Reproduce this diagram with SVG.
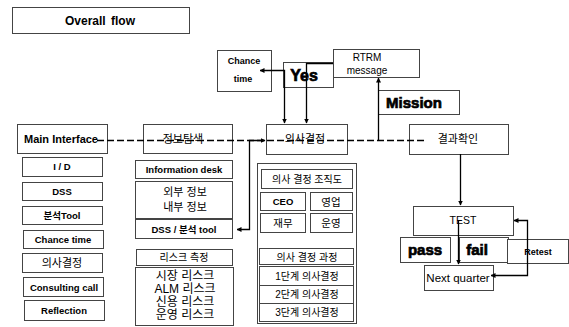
<svg xmlns="http://www.w3.org/2000/svg" width="569" height="327" viewBox="0 0 569 327">
<style>
.b{fill:#fff;stroke:#444;stroke-width:1}
.t{font-family:"Liberation Sans","Noto Sans CJK KR",sans-serif;text-anchor:middle;fill:#000}
.bd{font-weight:bold}
.hv{font-weight:bold;stroke:#000;stroke-width:0.7}
.c{fill:none;stroke:#000;stroke-width:1.3}
</style>
<defs>
<marker id="ah" viewBox="0 0 10 10" refX="9" refY="5" markerWidth="5" markerHeight="5" markerUnits="userSpaceOnUse" orient="auto-start-reverse">
<path d="M0,0 L10,5 L0,10 z" fill="#000"/>
</marker>
</defs>
<rect width="569" height="327" fill="#fff"/>

<g id="title"><rect class="b" x="12.5" y="7.5" width="177" height="26"/><text class="t bd" x="100" y="25" font-size="12" word-spacing="2">Overall flow</text></g>

<g id="chance-top"><rect class="b" x="217.5" y="50.5" width="54" height="41"/><text class="t bd" x="244" y="64" font-size="9">Chance</text><text class="t bd" x="243" y="82" font-size="9">time</text></g>
<g id="yes"><rect class="b" x="283.5" y="62.5" width="50" height="25"/><text class="t hv" x="304" y="81" font-size="16">Yes</text></g>
<g id="rtrm"><rect class="b" x="333.5" y="49.5" width="86" height="28"/><text class="t" x="367" y="61" font-size="10">RTRM</text><text class="t" x="367" y="74" font-size="10">message</text></g>
<g id="mission"><rect class="b" x="378.5" y="90.5" width="81" height="24"/><text class="t hv" x="414" y="108" font-size="15">Mission</text></g>

<g id="main"><rect class="b" x="17.5" y="124.5" width="90" height="29"/><text class="t bd" x="61" y="143" font-size="11">Main Interface</text></g>
<g id="info"><rect class="b" x="143.5" y="124.5" width="89" height="29"/><text class="t" x="183" y="143" font-size="11">정보탐색</text></g>
<g id="decide"><rect class="b" x="266.5" y="124.5" width="81" height="30"/><text class="t" x="305" y="143" font-size="11">의사결정</text></g>
<g id="result"><rect class="b" x="409.5" y="124.5" width="99" height="30"/><text class="t" x="458" y="143" font-size="11">결과확인</text></g>

<g id="c1-id"><rect class="b" x="22.5" y="157.5" width="80" height="19"/><text class="t bd" x="62" y="170" font-size="9.5">I / D</text></g>
<g id="c1-dss"><rect class="b" x="22.5" y="182.5" width="80" height="18"/><text class="t bd" x="62" y="195" font-size="9.5">DSS</text></g>
<g id="c1-tool"><rect class="b" x="22.5" y="206.5" width="80" height="18"/><text class="t bd" x="62" y="219" font-size="9.5">분석Tool</text></g>
<g id="c1-chance"><rect class="b" x="23.5" y="230.5" width="80" height="18"/><text class="t bd" x="63" y="243" font-size="9.5">Chance time</text></g>
<g id="c1-decide"><rect class="b" x="22.5" y="253.5" width="80" height="19"/><text class="t" x="62" y="267" font-size="11">의사결정</text></g>
<g id="c1-consult"><rect class="b" x="23.5" y="277.5" width="80" height="19"/><text class="t bd" x="64" y="290.5" font-size="9.5">Consulting call</text></g>
<g id="c1-reflect"><rect class="b" x="24.5" y="300.5" width="80" height="20"/><text class="t bd" x="64" y="314" font-size="9.5">Reflection</text></g>

<g id="c2-desk"><rect class="b" x="135.5" y="160.5" width="97" height="18"/><text class="t bd" x="184" y="173" font-size="9.5">Information desk</text></g>
<g id="c2-ext"><rect class="b" x="135.5" y="181.5" width="97" height="37"/><text class="t" x="185" y="196" font-size="11">외부 정보</text><text class="t" x="185" y="211" font-size="11">내부 정보</text></g>
<g id="c2-dss"><rect class="b" x="135.5" y="219.5" width="97" height="19"/><text class="t bd" x="184" y="232.5" font-size="9.5">DSS / 분석 tool</text></g>
<g id="c2-riskm"><rect class="b" x="136.5" y="249.5" width="96" height="16"/><text class="t" x="184" y="261" font-size="10">리스크 측정</text></g>
<g id="c2-risks"><rect class="b" x="135.5" y="267.5" width="98" height="58"/><text class="t" x="185" y="280" font-size="12">시장 리스크</text><text class="t" x="185" y="293" font-size="12">ALM 리스크</text><text class="t" x="185" y="306" font-size="12">신용 리스크</text><text class="t" x="185" y="319" font-size="12">운영 리스크</text></g>

<g id="c3"><rect class="b" x="257.5" y="163.5" width="99" height="160"/>
<rect class="b" x="261.5" y="169.5" width="91" height="19"/><text class="t" x="307" y="183" font-size="10">의사 결정 조직도</text>
<rect class="b" x="260.5" y="192.5" width="45" height="18"/><text class="t bd" x="283" y="205" font-size="9.5">CEO</text>
<rect class="b" x="310.5" y="192.5" width="42" height="18"/><text class="t" x="331" y="205.5" font-size="10.5">영업</text>
<rect class="b" x="260.5" y="213.5" width="45" height="19"/><text class="t" x="283" y="227" font-size="10.5">재무</text>
<rect class="b" x="310.5" y="213.5" width="42" height="19"/><text class="t" x="331" y="227" font-size="10.5">운영</text>
<rect class="b" x="259.5" y="248.5" width="94" height="16"/><text class="t" x="307" y="260.5" font-size="10">의사 결정 과정</text>
<rect class="b" x="259.5" y="266.5" width="94" height="19"/><text class="t" x="307" y="279.5" font-size="10">1단계 의사결정</text>
<rect class="b" x="259.5" y="285.5" width="94" height="18"/><text class="t" x="307" y="298" font-size="10">2단계 의사결정</text>
<rect class="b" x="259.5" y="303.5" width="94" height="18"/><text class="t" x="307" y="316" font-size="10">3단계 의사결정</text>
</g>

<g id="test"><rect class="b" x="413.5" y="206.5" width="100" height="29"/><text class="t" x="463" y="224" font-size="10.5">TEST</text></g>
<g id="pass"><rect class="b" x="400.5" y="237.5" width="50" height="25"/><text class="t hv" x="425" y="255" font-size="15">pass</text></g>
<g id="fail"><rect class="b" x="459.5" y="237.5" width="49" height="25"/><text class="t hv" x="477" y="255" font-size="15">fail</text></g>
<g id="retest"><rect class="b" x="507.5" y="239.5" width="61" height="24"/><text class="t bd" x="538" y="255" font-size="9">Retest</text></g>
<g id="next"><rect class="b" x="424.5" y="265.5" width="69" height="25"/><text class="t" x="458" y="281.5" font-size="11.5">Next quarter</text></g>

<g id="connectors">
<path class="c" d="M97 140.5 H425" stroke-dasharray="7,3"/>
<path class="c" d="M237 229.5 H249.5 V140.5 H265" marker-start="url(#ah)" marker-end="url(#ah)"/>
<path class="c" d="M260 70.5 H284.5 V123" marker-start="url(#ah)" marker-end="url(#ah)"/>
<path class="c" d="M333 63.5 H306.5 V123" marker-end="url(#ah)"/>
<path class="c" d="M378.5 140.5 V78" marker-end="url(#ah)"/>
<path class="c" d="M460.5 154 V205" marker-end="url(#ah)"/>
<path class="c" d="M458.5 221 V264" marker-end="url(#ah)"/>
<path class="c" d="M491 275.5 H527.5 V220.5 H514" marker-start="url(#ah)" marker-end="url(#ah)"/>
</g>
</svg>
